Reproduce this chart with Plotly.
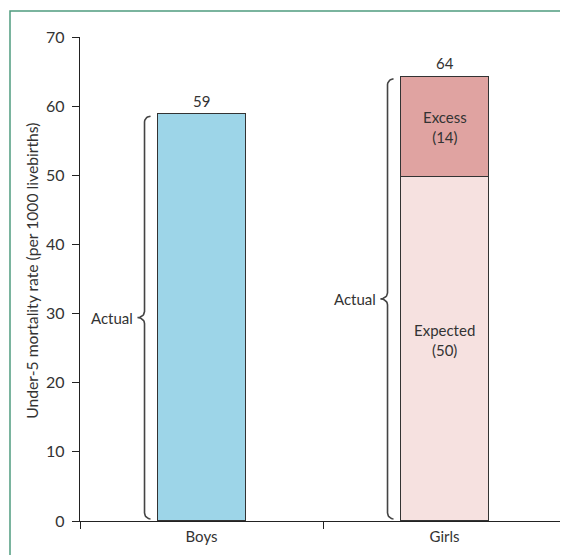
import numpy as np
import plotly.graph_objects as go

# ---------------- data ----------------
categories = ["Boys", "Girls"]
boys_actual = [58.9, None]
girls_expected = [None, 49.8]
girls_excess = [None, 14.5]
total_labels = ["59", "64"]
expected_label = "Expected<br>(50)"
excess_label = "Excess<br>(14)"
brace_label = "Actual"
y_tick_vals = [0, 10, 20, 30, 40, 50, 60, 70]
y_title = "Under-5 mortality rate (per 1000 livebirths)"

# ---------------- style ----------------
FONT = "Lato"
FS = 15
TXT = "#333333"
AX = "#222222"
BLUE = "#9dd5e8"
EXP_COL = "#f6e1e0"
EXC_COL = "#e0a3a1"
OUTLINE = "#333333"
BAR_W = 0.362
OFF = 8  # browser body margin
W, H = 568 - OFF, 555 - OFF
L, R, T, B = 80 - OFF, 2, 37 - OFF, 33.5
plot_w = W - L - R
plot_h = H - T - B
x_range = [-0.5, 1.5]
y_range = [0, 70]
px_x = plot_w / (x_range[1] - x_range[0])
px_y = plot_h / (y_range[1] - y_range[0])

totals = [sum(v for v in vals if v is not None)
          for vals in zip(boys_actual, girls_expected, girls_excess)]

fig = go.Figure()
fig.add_trace(go.Bar(x=categories, y=boys_actual, width=BAR_W,
                     marker=dict(color=BLUE, line=dict(color=OUTLINE, width=1.3)),
                     hoverinfo="skip"))
fig.add_trace(go.Bar(x=categories, y=girls_expected, width=BAR_W,
                     marker=dict(color=EXP_COL, line=dict(color=OUTLINE, width=1.3)),
                     hoverinfo="skip"))
fig.add_trace(go.Bar(x=categories, y=girls_excess, width=BAR_W,
                     marker=dict(color=EXC_COL, line=dict(color=OUTLINE, width=1.3)),
                     hoverinfo="skip"))


def brace(xc, top, bottom):
    """Curly brace left of a bar, from bottom to top, in data units."""
    gap = 13 / px_x          # distance from bar edge to brace stem
    r = 6 / px_x             # horizontal radius
    ry = 6 / px_y            # vertical radius
    tip = 7 / px_x
    xv = xc - BAR_W / 2 - gap
    top = top - 0.35
    bottom = bottom + 0.3
    mid = (top + bottom) / 2
    xs, ys = [], []
    t = np.linspace(0, np.pi / 2, 10)
    for a in t:
        xs.append(xv + r - r * np.sin(a))
        ys.append(top - ry + ry * np.cos(a))
    for a in t:
        xs.append(xv - tip * (1 - np.cos(a)))
        ys.append(mid + ry - ry * np.sin(a))
    for a in t[::-1]:
        xs.append(xv - tip * (1 - np.cos(a)))
        ys.append(mid - ry + ry * np.sin(a))
    for a in t[::-1]:
        xs.append(xv + r - r * np.sin(a))
        ys.append(bottom + ry - ry * np.cos(a))
    return xs, ys, xv - tip, mid


annotations = []
for i, cat in enumerate(categories):
    bx, by, tipx, mid = brace(i, totals[i], 0)
    fig.add_trace(go.Scatter(x=bx, y=by, xaxis="x2", yaxis="y", mode="lines",
                             line=dict(color="#444444", width=1.6),
                             hoverinfo="skip", showlegend=False))
    annotations.append(dict(x=tipx, y=mid, xref="x2", yref="y", text=brace_label,
                            showarrow=False, xanchor="right", yanchor="middle",
                            xshift=-3, font=dict(family=FONT, size=FS, color=TXT)))
    annotations.append(dict(x=cat, y=totals[i], xref="x", yref="y",
                            text=total_labels[i], showarrow=False,
                            yanchor="bottom", yshift=2,
                            font=dict(family=FONT, size=FS, color=TXT)))

g = categories.index("Girls")
annotations.append(dict(x="Girls", y=girls_expected[g] + girls_excess[g] / 2,
                        xref="x", yref="y", text=excess_label, showarrow=False,
                        font=dict(family=FONT, size=FS, color=TXT)))
annotations.append(dict(x="Girls", y=girls_expected[g] / 2 + 1.3,
                        xref="x", yref="y", text=expected_label, showarrow=False,
                        font=dict(family=FONT, size=FS, color=TXT)))
annotations.append(dict(x=(32 - OFF - L) / plot_w, y=(H - B - (271 - OFF)) / plot_h,
                        xref="paper", yref="paper", text=y_title, textangle=-90,
                        xanchor="center", yanchor="middle",
                        showarrow=False, font=dict(family=FONT, size=15.7, color=TXT)))

# frame lines (top and left)
fx = (10 - OFF - L) / plot_w
fy = 1 + (T - (11 - OFF)) / plot_h
frame = dict(type="path", xref="paper", yref="paper",
             path=f"M {fx},-0.2 L {fx},{fy} L 1.1,{fy}",
             line=dict(color="#4f9c7f", width=1.5))

fig.update_layout(
    width=W, height=H,
    margin=dict(l=L, r=R, t=T, b=B),
    barmode="stack",
    showlegend=False,
    plot_bgcolor="white", paper_bgcolor="white",
    font=dict(family=FONT, size=FS, color=TXT),
    xaxis=dict(type="category", range=x_range, tickson="boundaries",
               ticks="outside", ticklen=7, tickwidth=1.3, tickcolor=AX,
               showline=True, linecolor=AX, linewidth=1.3, showgrid=False,
               zeroline=False, ticklabelstandoff=2,
               tickfont=dict(family=FONT, size=FS, color=TXT)),
    xaxis2=dict(overlaying="x", range=x_range, visible=False, anchor="y"),
    yaxis=dict(range=y_range, tickvals=y_tick_vals, ticks="outside", ticklen=7,
               tickwidth=1.3, tickcolor=AX, showline=True, linecolor=AX,
               linewidth=1.3, showgrid=False, zeroline=False,
               ticklabelstandoff=4,
               tickfont=dict(family=FONT, size=16, color=TXT)),
    annotations=annotations,
    shapes=[frame],
)

fig.write_html("out.html")
